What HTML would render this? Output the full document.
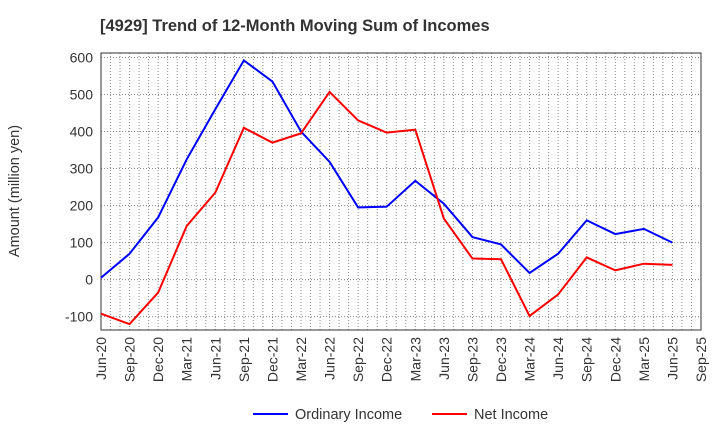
<!DOCTYPE html>
<html><head><meta charset="utf-8"><style>
body{margin:0;background:#fff;width:720px;height:440px;overflow:hidden;font-family:"Liberation Sans",sans-serif}
</style></head><body>
<svg width="720" height="440" font-family="Liberation Sans, sans-serif">
<text x="100" y="31" font-size="16.5" font-weight="bold" fill="#333">[4929]  Trend of 12-Month Moving Sum of Incomes</text>
<g id="grid"></g>
<g id="axes"></g>
<g id="series"></g>
<text transform="translate(19,191) rotate(-90)" text-anchor="middle" font-size="14.5" fill="#333">Amount (million yen)</text>
<g>
<g><line x1="253" y1="414" x2="288" y2="414" stroke="#0000ff" stroke-width="2"/><text x="295" y="419" font-size="14.5" fill="#333">Ordinary Income</text></g>
<g><line x1="432" y1="414" x2="467" y2="414" stroke="#ff0000" stroke-width="2"/><text x="474" y="419" font-size="14.5" fill="#333">Net Income</text></g>
</g>
</svg>
<script>
const categories=["Jun-20","Sep-20","Dec-20","Mar-21","Jun-21","Sep-21","Dec-21","Mar-22","Jun-22","Sep-22","Dec-22","Mar-23","Jun-23","Sep-23","Dec-23","Mar-24","Jun-24","Sep-24","Dec-24","Mar-25","Jun-25","Sep-25"];
const ordinaryIncome=[5,70,168,325,460,592,535,400,318,195,197,267,205,115,95,18,70,160,123,137,100];
const netIncome=[-92,-120,-35,145,235,410,370,395,507,430,397,405,165,57,55,-98,-40,60,25,43,40];
const yTicks=[-100,0,100,200,300,400,500,600];
const NS="http://www.w3.org/2000/svg";
const L=101,R=701,T=53,B=330,yMin=-136,yMax=612;
const xs=i=>L+(R-L)*i/(categories.length-1);
const ys=v=>B-(v-yMin)/(yMax-yMin)*(B-T);
function mk(tag,attrs,parent){const e=document.createElementNS(NS,tag);for(const k in attrs)e.setAttribute(k,attrs[k]);parent.appendChild(e);return e;}
const grid=document.getElementById('grid'),axes=document.getElementById('axes'),series=document.getElementById('series');
const months=(categories.length-1)*3;
for(let m=1;m<months;m++){const x=L+(R-L)*m/months;
const g=mk('line',{x1:x,x2:x,y1:T,y2:B,stroke:'#888','stroke-width':1,'stroke-dasharray':'1,2'},grid);

}
yTicks.forEach(v=>{const y=ys(v);
const g=mk('line',{x1:L,x2:R,y1:y,y2:y,stroke:'#888','stroke-width':1,'stroke-dasharray':'1,2'},grid);


const t=mk('text',{x:L-8,y:y+5,'text-anchor':'end','font-size':14,fill:'#333'},axes);t.textContent=v;

});
const frame=mk('rect',{x:L,y:T,width:R-L,height:B-T,fill:'none',stroke:'#333','stroke-width':1},axes);


categories.forEach((c,i)=>{const x=xs(i);
const t=mk('text',{transform:`translate(${x+5},${B+7}) rotate(-90)`,'text-anchor':'end','font-size':14,fill:'#333'},axes);t.textContent=c;

});
function line(data,color,name){const p=mk('polyline',{points:data.map((v,i)=>xs(i)+','+ys(v)).join(' '),fill:'none',stroke:color,'stroke-width':2,'stroke-linejoin':'miter'},series);

}
line(ordinaryIncome,'#0000ff','ordinary-income-line');
line(netIncome,'#ff0000','net-income-line');
</script>
</body></html>
